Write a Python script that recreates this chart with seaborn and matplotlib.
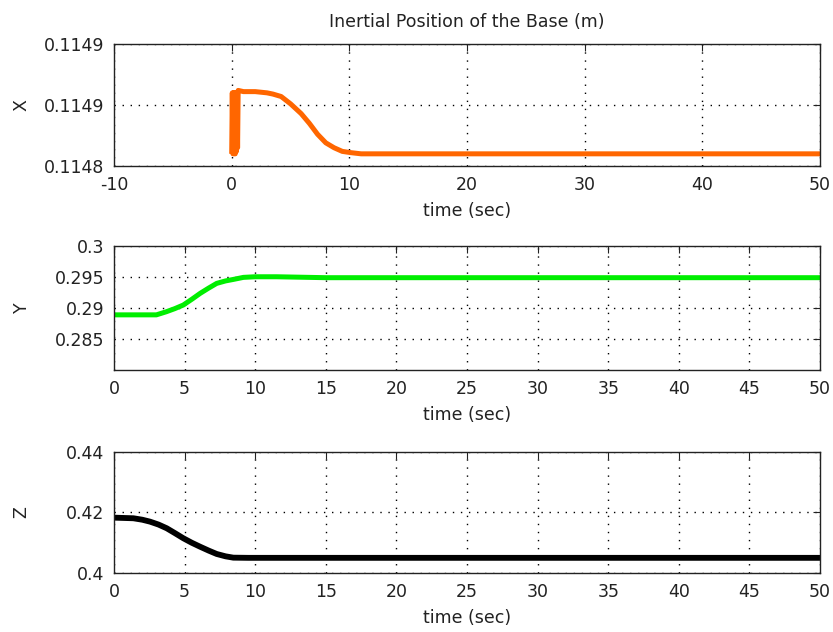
import numpy as np
import pandas as pd
import seaborn as sns
import matplotlib.pyplot as plt

# values
x_time = [0, 0.05, 0.1, 0.15, 0.2, 0.25, 0.3, 0.35, 0.4, 0.45, 0.5, 0.55, 1.0, 2.0, 3.0,
          3.5, 4.2, 5.0, 5.9, 6.6, 7.3, 8.0, 8.7, 9.4, 10.1, 11.0, 14.5, 20, 30, 40, 50]
x_pos = [0.114810, 0.114860, 0.114810, 0.114860, 0.114810, 0.114860, 0.114810, 0.114860,
         0.114812, 0.114860, 0.114815, 0.114862, 0.114861, 0.114861, 0.114860,
         0.114859, 0.114857, 0.114851, 0.114843, 0.114835, 0.114826, 0.114819, 0.114815,
         0.114812, 0.114811, 0.114810, 0.114810, 0.114810, 0.114810, 0.114810, 0.114810]

y_time = [0, 1.5, 3.0, 3.7, 4.3, 4.9, 5.5, 6.1, 6.7, 7.27, 7.9, 8.45, 9.16, 10.0, 11.5,
          15, 20, 30, 40, 50]
y_pos = [0.2889, 0.2889, 0.2889, 0.2894, 0.2899, 0.29048, 0.29140, 0.29237, 0.29322,
         0.29398, 0.29438, 0.29462, 0.29495, 0.29505, 0.29505, 0.2949, 0.2949, 0.2949,
         0.2949, 0.2949]

z_time = [0, 1.37, 2.0, 2.55, 3.15, 3.73, 4.3, 4.91, 5.5, 6.09, 6.7, 7.27, 7.9, 8.45, 9.5,
          15, 20, 30, 40, 50]
z_pos = [0.41828, 0.41808, 0.41760, 0.41696, 0.41600, 0.41478, 0.41320, 0.41147, 0.41000,
         0.40869, 0.40740, 0.40628, 0.40550, 0.40506, 0.4050, 0.4050, 0.4050, 0.4050,
         0.4050, 0.4050]

x_ticks = [0.11480, 0.11485, 0.11490]
x_ticklabels = ['0.1148', '0.1149', '0.1149']
y_ticks = [0.285, 0.29, 0.295, 0.3]
y_ticklabels = ['0.285', '0.29', '0.295', '0.3']
z_ticks = [0.40, 0.42, 0.44]
z_ticklabels = ['0.4', '0.42', '0.44']

sns.set_style("white")
plt.rcParams['font.family'] = ['DejaVu Sans']
plt.rcParams['font.size'] = 12.5
plt.rcParams['axes.unicode_minus'] = False

fig = plt.figure(figsize=(8.33, 6.32), dpi=100)
ax1 = fig.add_axes([0.1369, 0.7373, 0.8475, 0.193])
ax2 = fig.add_axes([0.1369, 0.4146, 0.8475, 0.196])
ax3 = fig.add_axes([0.1369, 0.0934, 0.8475, 0.1915])

df_x = pd.DataFrame({'t': x_time, 'v': x_pos})
df_y = pd.DataFrame({'t': y_time, 'v': y_pos})
df_z = pd.DataFrame({'t': z_time, 'v': z_pos})

sns.lineplot(data=df_x, x='t', y='v', ax=ax1, color='#ff6600', lw=3.6, sort=False,
             estimator=None, solid_capstyle='butt')
sns.lineplot(data=df_y, x='t', y='v', ax=ax2, color='#00ee00', lw=3.6, sort=False,
             estimator=None, solid_capstyle='butt')
sns.lineplot(data=df_z, x='t', y='v', ax=ax3, color='black', lw=4.2, sort=False,
             estimator=None, solid_capstyle='butt')

ax1.set_xlim(-10, 50)
ax1.set_xticks(range(-10, 51, 10))
ax1.set_ylim(0.11480, 0.11490)
ax1.set_yticks(x_ticks)
ax1.set_yticklabels(x_ticklabels)
ax1.set_ylabel('X')
ax1.set_title('Inertial Position of the Base (m)', fontsize=12.5, pad=12, color='#222222')

ax2.set_xlim(0, 50)
ax2.set_xticks(range(0, 51, 5))
ax2.set_ylim(0.28, 0.30)
ax2.set_yticks(y_ticks)
ax2.set_yticklabels(y_ticklabels)
ax2.set_ylabel('Y')

ax3.set_xlim(0, 50)
ax3.set_xticks(range(0, 51, 5))
ax3.set_ylim(0.40, 0.44)
ax3.set_yticks(z_ticks)
ax3.set_yticklabels(z_ticklabels)
ax3.set_ylabel('Z')

for ax in (ax1, ax2, ax3):
    ax.set_xlabel('time (sec)', labelpad=6, color='#222222')
    ax.yaxis.label.set_color('#222222')
    ax.yaxis.set_label_coords(-0.118, 0.5)
    ax.grid(True, color='black', linestyle=(0, (1, 4.8)), lw=1.0)
    ax.tick_params(direction='in', length=5, width=0.8, top=True, right=True,
                   colors='#222222', pad=7)
    for s in ax.spines.values():
        s.set_color('#222222')
        s.set_linewidth(1.0)

fig.savefig('out.png', dpi=100)
